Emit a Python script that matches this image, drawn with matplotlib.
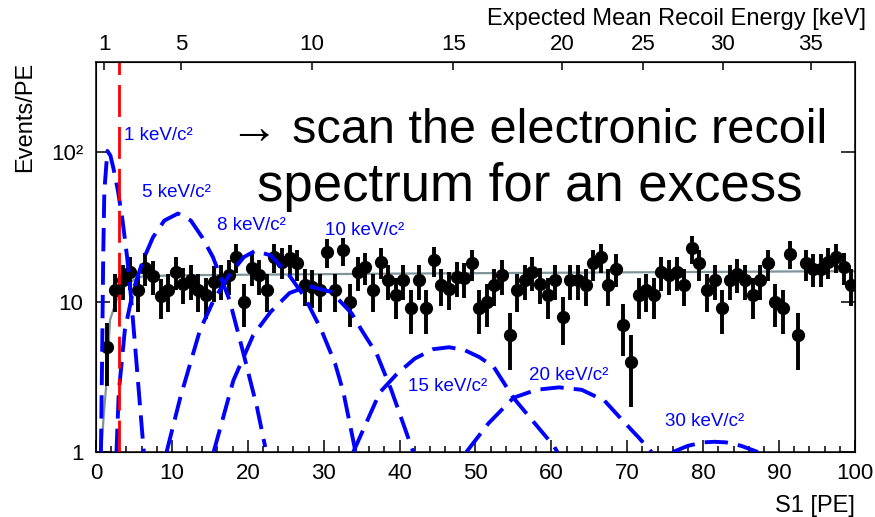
import numpy as np
import matplotlib.pyplot as plt
from matplotlib.ticker import MultipleLocator, NullFormatter, LogLocator

plt.rcParams['font.family'] = ['Liberation Sans', 'DejaVu Sans']

# measured spectrum, events per 1 PE bin (bins centred at 1.5 ... 99.5)
s1_centers = np.arange(1.5, 100.0, 1.0)
counts = [
    5.0, 12.0, 14.0, 16.0, 12.0, 17.0, 15.0, 11.0, 12.0, 16.0,
    13.3, 14.0, 12.0, 11.1, 13.7, 14.0, 15.1, 20.0, 10.0, 17.0,
    15.1, 12.0, 20.0, 18.5, 19.6, 18.1, 13.0, 12.7, 12.0, 21.6,
    12.0, 22.2, 10.0, 15.9, 17.2, 12.0, 18.6, 14.0, 11.1, 14.0,
    9.1, 14.0, 9.1, 19.1, 13.0, 12.3, 14.7, 14.4, 18.1, 9.1,
    10.0, 13.0, 15.1, 6.0, 12.0, 14.0, 15.9, 13.3, 11.1, 14.0,
    8.0, 14.0, 14.0, 13.0, 18.1, 20.0, 13.0, 16.7, 7.0, 4.0,
    11.1, 12.0, 11.1, 15.9, 15.1, 15.9, 13.0, 22.8, 18.1, 12.0,
    14.0, 9.1, 14.0, 15.5, 14.0, 11.1, 14.0, 18.1, 10.0, 9.1,
    21.1, 6.0, 18.1, 16.7, 16.7, 18.6, 20.0, 17.2, 13.0,
]

# background model (grey)
bkg_s1 = [0.7, 1.0, 1.4, 1.85, 2.7, 3.6, 4.9, 6.0, 10, 40, 70, 100]
bkg_val = [1.0, 1.7, 3.0, 7.6, 10.3, 12.6, 14.0, 14.8, 15.1, 15.5, 15.8, 16.1]

# expected signal peaks for several masses
masses = ['1', '5', '8', '10', '15', '20', '30']
sig_s1 = [
    [0.65, 0.8, 0.95, 1.1, 1.5, 1.9, 2.3, 2.9, 3.5, 4.1, 4.6, 5.1, 5.6, 6.3],
    [2.7, 3.0, 3.8, 4.9, 6.2, 7.5, 9.0, 10.8, 12.5, 14.0, 15.4, 17.6, 19.4, 21.2, 22.3],
    [9.3, 11.1, 13.7, 15.5, 17.7, 19.5, 21.0, 23.0, 25.3, 27.5, 29.7, 31.5, 32.6, 34.2],
    [15.5, 18.1, 20.7, 23.0, 25.5, 28.0, 31.0, 33.7, 35.0, 37.0, 38.9, 41.8],
    [33.9, 35.7, 37.4, 39.6, 42.0, 44.4, 46.5, 48.5, 50.5, 52.4, 55.0, 57.6, 60.3, 60.8],
    [48.8, 51.7, 55.0, 58.0, 61.0, 64.0, 67.0, 69.5, 71.5, 73.2],
    [76.0, 78.0, 80.0, 81.5, 83.0, 85.0, 87.2],
]
sig_val = [
    [1.0, 4.0, 20, 55, 102, 95, 78, 55, 35, 20, 11, 5.5, 2.7, 1.0],
    [1.0, 2.5, 6.5, 12, 19, 27, 35, 39, 35, 27, 20, 10.3, 4.6, 2.0, 1.08],
    [1.0, 2.3, 6.5, 10.3, 15.5, 20, 22, 20.5, 15.5, 10.8, 6.5, 3.9, 2.5, 1.0],
    [1.0, 3.0, 6.0, 8.6, 11.5, 12.8, 11.7, 8.4, 6.5, 4.5, 2.6, 1.0],
    [1.0, 1.6, 2.5, 3.3, 4.2, 4.85, 5.0, 4.8, 4.3, 3.7, 2.3, 1.6, 1.1, 1.0],
    [1.0, 1.55, 2.3, 2.6, 2.7, 2.6, 2.2, 1.6, 1.25, 1.0],
    [1.0, 1.1, 1.16, 1.17, 1.16, 1.1, 1.0],
]

threshold_s1 = 3.0

# top axis: recoil energy and where it sits in S1
energy_ticks = [1, 5, 10, 15, 20, 25, 30, 35]
energy_tick_s1 = [1.1, 11.2, 28.4, 47.1, 61.4, 72.1, 82.6, 94.2]


fig = plt.figure(figsize=(8.75, 5.17), dpi=100)
ax = fig.add_axes([0.1097, 0.1257, 0.8674, 0.7544])

ax.errorbar(s1_centers, counts, yerr=np.sqrt(counts), fmt='o', color='black',
            ms=8.5, elinewidth=2.8, capsize=0, zorder=3)
ax.plot(bkg_s1, bkg_val, color='#7f959b', lw=1.6, zorder=2)

for xs, ys in zip(sig_s1, sig_val):
    ax.plot(xs, ys, color='blue', lw=2.8, dashes=(6, 2.6), zorder=4)

ax.axvline(threshold_s1, color='red', lw=2.0, dashes=(11.5, 3.6), zorder=5)

# mass labels (S1, value at baseline)
label_pos = [(3.7, 120), (6.0, 50), (15.9, 30.2), (30.2, 28.0),
             (41.1, 2.55), (57.0, 3.02), (75.0, 1.49)]
for m, (lx, ly) in zip(masses, label_pos):
    ax.text(lx, ly, m + ' keV/c²', color='blue', fontsize=13.5,
            ha='left', va='baseline', zorder=6)

ax.set_xlim(0, 100)
ax.set_yscale('log')
ax.set_ylim(1, 400)
ax.xaxis.set_major_locator(MultipleLocator(10))
ax.xaxis.set_minor_locator(MultipleLocator(2))
ax.set_yticks([1, 10, 100])
ax.set_yticklabels(['1', '10', '10²'])
ax.yaxis.set_minor_locator(LogLocator(base=10, subs=np.arange(2, 10)))
ax.yaxis.set_minor_formatter(NullFormatter())
ax.tick_params(which='both', direction='in', right=True, top=False,
               labelsize=16, width=1.1)
ax.tick_params(axis='x', which='major', length=9, pad=8)
ax.tick_params(axis='x', which='minor', length=4.5)
ax.tick_params(axis='y', which='major', length=10, pad=9)
ax.tick_params(axis='y', which='minor', length=5.5)
for sp in ax.spines.values():
    sp.set_linewidth(1.1)

ax2 = ax.twiny()
ax2.set_xlim(0, 100)
ax2.set_xticks(energy_tick_s1)
ax2.set_xticklabels([str(e) for e in energy_ticks])
ax2.minorticks_off()
ax2.tick_params(direction='in', length=6, width=1.1, pad=5, labelsize=16)

fig.text(25 / 875, 1 - 62 / 517, 'Events/PE', rotation=90, ha='center',
         va='top', fontsize=17)
fig.text(855 / 875, 1 - 512 / 517, 'S1 [PE]', ha='right', va='baseline',
         fontsize=17)
fig.text(866 / 875, 1 - 25 / 517, 'Expected Mean Recoil Energy [keV]',
         ha='right', va='baseline', fontsize=17)

fig.text(230 / 875, 1 - 143 / 517, '→ scan the electronic recoil',
         ha='left', va='baseline', fontsize=35)
fig.text(530 / 875, 1 - 201 / 517, 'spectrum for an excess',
         ha='center', va='baseline', fontsize=38)

fig.savefig('out.png', dpi=100)
